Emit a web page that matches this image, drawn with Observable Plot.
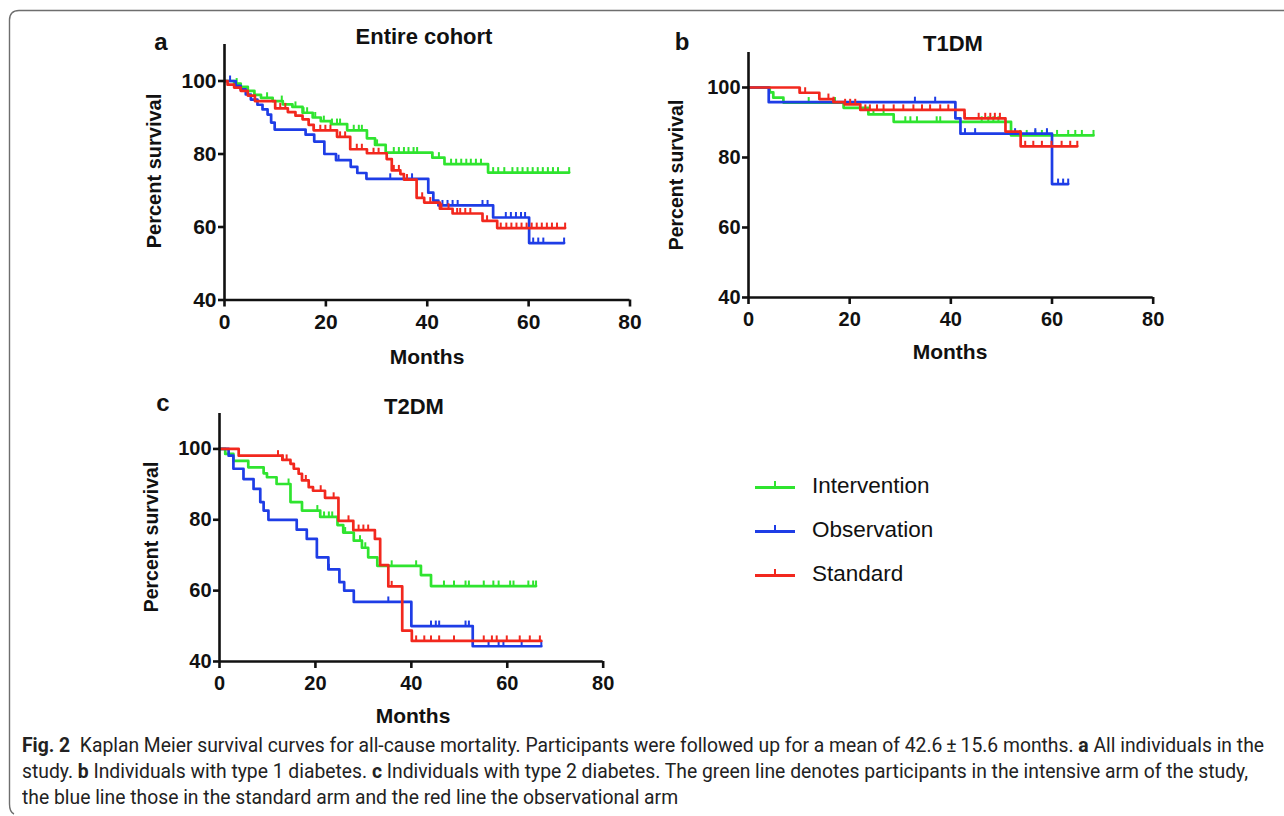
<!DOCTYPE html>
<html><head><meta charset="utf-8">
<script src="https://cdn.jsdelivr.net/npm/d3@7"></script>
<script src="https://cdn.jsdelivr.net/npm/@observablehq/plot@0.6"></script>
<style>
body{margin:0;background:#fff;}
#root{position:relative;width:1284px;height:816px;overflow:hidden;background:#fff;font-family:"Liberation Sans",Arial,Helvetica,sans-serif;color:#111;}
.abs{position:absolute;white-space:nowrap;line-height:1;}
.c{transform:translate(-50%,-50%);}
.b{font-weight:bold;}
.ylab{transform:translate(-50%,-50%) rotate(-90deg);}
.plot{position:absolute;}
.leg{position:absolute;left:755px;height:0;}
.sw{position:absolute;left:0;top:-1.5px;width:40px;height:0;border-top:3px solid;}
.sw::after{content:"";position:absolute;left:19px;top:-8px;width:2px;height:6px;background:currentColor;}
.lt{position:absolute;left:57px;top:-12px;font-size:22.5px;white-space:nowrap;line-height:1;}
.cap{position:absolute;left:22px;white-space:nowrap;font-family:Roboto,"Noto Sans",sans-serif;font-size:19.5px;color:#222;transform-origin:0 50%;line-height:1;}
.cap b{font-weight:bold;}
</style></head>
<body><div id="root"></div>
<script>
// ---------------- data ----------------
const seriesNames = ["Intervention", "Observation", "Standard"];
const seriesColors = ["#2fe42f", "#1e3de6", "#f2281e"];
const xTicks = [0, 20, 40, 60, 80];
const yTicks = [40, 60, 80, 100];
const panelTitles = ["Entire cohort", "T1DM", "T2DM"];
const panelLetters = ["a", "b", "c"];

// Panel a: Entire cohort  [months, percent survival]
const aIntervention = [[0,100],[1.9,99.3],[3.2,98.4],[4.6,97.3],[5.9,96.2],[7.2,95.4],[9.5,94.5],[11.5,93.6],[13.4,92.9],[15.4,91.3],[17.4,90],[19,89],[21,88.2],[24.2,86.5],[28.1,84.3],[29.7,82.5],[31.8,80.4],[41,79],[43.4,77.2],[52,74.9],[68,74.9]];
const aInterventionCensor = [2.4,8.4,11.3,14,15.6,16.3,17.9,19.6,21.2,22.2,22.8,25.5,26.5,27.1,30.1,33.4,34.4,35.4,36.3,37.3,38,41,42.3,44.7,45.7,46.7,47.7,48.6,49.6,50.6,53,54,55.2,56.8,57.8,58.8,59.8,60.8,61.8,62.8,63.8,64.8,65.8,68];
const aObservation = [[0,100],[2.2,98.7],[3.2,97.7],[4.2,96.3],[5.2,94.9],[6.5,93.5],[7.5,92.2],[8.5,90.8],[9.2,88.6],[9.9,86.7],[16,85.3],[17.7,83.4],[19.7,80],[22,78.3],[24.9,76.5],[26.2,74.8],[28,73.2],[40.2,69.4],[41.2,67.2],[42.2,65.9],[53,62.6],[60.1,55.6],[67,55.6]];
const aObservationCensor = [1.1,22.5,32.7,35.4,37,43,44,45,46,50.9,51.9,55.5,56.5,57.5,58.5,59.3,60.9,61.9,62.9,67];
const aStandard = [[0,100],[0.6,99],[1.9,98.2],[3.2,97.3],[4.6,96],[6,94.5],[10,92.5],[12.5,91.5],[14,90.5],[15.4,89.5],[16.6,88],[17.6,86.5],[22.2,84.7],[24.8,81.3],[28.1,80.2],[32,78.6],[33,75.5],[34.7,74.5],[35.4,73],[37.9,68],[39.4,66.7],[42.5,65],[45,63.7],[50.9,61.7],[53.8,59.7],[67.2,59.7]];
const aStandardCensor = [11,12,17.6,18.9,19.9,20.9,22.8,23.8,26.1,27.1,29.4,30.4,33.4,34.4,36,39,40.6,42.8,44.2,45.9,46.5,47.5,48.5,51.8,54.5,55.6,56.6,57.6,58.6,59.6,60.6,61.6,62.6,63.6,64.6,65.6,67.2];

// Panel b: T1DM
const bIntervention = [[0,100],[4.2,98.6],[4.9,97.1],[6.9,95.7],[18.8,94.2],[23.7,92.3],[28.7,90.2],[51.9,86.3],[68.2,86.3]];
const bInterventionCensor = [11.9,17.1,24.7,26.7,31,32,33.3,37.2,37.9,46.1,47.4,48.4,49.4,53.7,55,56.7,58,59,61,63.2,64.6,65.9,68.2];
const bObservation = [[0,100],[4,95.8],[40.9,91.2],[41.9,86.8],[60,72.4],[63.2,72.4]];
const bObservationCensor = [32.9,36.9,42.8,44.8,52.7,56.7,59,61.2,62.2,63.2];
const bStandard = [[0,100],[10.1,98.5],[14,96.7],[16.8,95.8],[19,95.2],[22.1,93.6],[42.7,91.2],[50.8,87.4],[53.8,83.2],[65,83.2]];
const bStandardCensor = [10.2,11.2,15.8,16.8,19.1,20.1,21.1,23.1,24,25.4,26.7,28.7,30.6,32.6,34.3,35.9,37.9,39.5,42.8,45.5,46.8,47.8,48.7,49.7,54.7,56.3,58,59.9,61.9,63.6,65];

// Panel c: T2DM
const cIntervention = [[0,100],[1.2,98.6],[2.9,96.6],[6,94.8],[9.2,93.1],[9.9,92],[11.9,90.1],[14.8,85],[17.2,82.6],[21,80.8],[24.6,78.5],[25.8,76.4],[28,74.1],[29.7,72.1],[31,69.4],[32.9,67],[42,64.4],[44.1,61.3],[66,61.3]];
const cInterventionCensor = [14.4,20.4,21.8,22.8,23.5,26.2,29.3,30.4,35.9,41,46.8,48.9,51.3,52,55.1,57.1,58.2,60.6,61.3,64.4,65.4,66];
const cObservation = [[0,100],[1.9,98.1],[2.9,94.4],[5,91.5],[7.1,88.7],[8.5,85],[9.2,82.6],[10.2,80],[16.1,77.2],[18.2,74.6],[20.3,69.4],[22.7,66],[25,62.4],[26,60],[28,56.8],[40,50],[52.8,44.3],[67.1,44.3]];
const cObservationCensor = [22.8,35.2,44.1,45.1,45.8,51.3,52,56.1,58.2,59.2,63,67.1];
const cStandard = [[0,100],[4,98.1],[13.1,96.9],[14.8,95.8],[15.5,94.4],[16.5,93],[17.2,91.1],[18.6,89.2],[19.5,88.2],[22,86.2],[24.8,79.7],[27.9,77.1],[32.4,74.6],[33.5,67.2],[35.2,61.2],[38.1,48.7],[40.1,45.8],[67.1,45.8]];
const cStandardCensor = [12.2,13.2,14,15.5,18,21.1,23.8,26.9,29,30,31,35.9,41,42.7,44.1,45.8,48.9,55.1,56.8,57.8,59.9,62.6,64.7,66.8];

const captionLines = [
  ["<b>Fig. 2</b>&nbsp; Kaplan Meier survival curves for all-cause mortality. Participants were followed up for a mean of 42.6\u2009\u00b1\u200915.6 months. <b>a</b> All individuals in the"],
  ["study. <b>b</b> Individuals with type 1 diabetes. <b>c</b> Individuals with type 2 diabetes. The green line denotes participants in the intensive arm of the study,"],
  ["the blue line those in the standard arm and the red line the observational arm"]
];

// ---------------- drawing ----------------
const root = document.getElementById("root");

// frame (rounded border)
root.insertAdjacentHTML("beforeend",
  `<svg class="abs" style="left:0;top:0" width="1284" height="816"><path d="M1284,10.5 H19 Q9.5,10.5 9.5,20 V804 Q9.5,812 14,814" fill="none" stroke="#6e6e6e" stroke-width="1.4"/></svg>`);

const censorSymbol = {
  draw(ctx, size) {
    const h = Math.sqrt(size / Math.PI);
    ctx.moveTo(0, 0);
    ctx.lineTo(0, -h);
  }
};

function survAt(steps, t) {
  let v = steps[0][1];
  for (const [tt, s] of steps) { if (tt <= t + 1e-9) v = s; else break; }
  return v;
}

function panel(cfg) {
  const ML = 70, MR = 16, MT = 8, MB = 44;
  const w = ML + (cfg.x80 - cfg.x0) + MR;
  const h = MT + (cfg.y40 - cfg.y110) + MB;
  const marks = [];
  cfg.series.forEach((s, i) => {
    marks.push(Plot.line(s.steps, {x: d => d[0], y: d => d[1], curve: "step-after", stroke: seriesColors[i], strokeWidth: 2.7}));
    marks.push(Plot.dot(s.censor, {x: d => d, y: d => survAt(s.steps, d), symbol: censorSymbol, r: 5.5, stroke: seriesColors[i], strokeWidth: 2, fill: "none"}));
  });
  const fs = cfg.fs;
  const chart = Plot.plot({
    width: w, height: h,
    marginLeft: ML, marginRight: MR, marginTop: MT, marginBottom: MB,
    x: {domain: [0, 80]},
    y: {domain: [40, 110]},
    style: {fontFamily: '"Liberation Sans", Arial, sans-serif', fontWeight: "bold", fontSize: fs + "px", color: "#111", background: "transparent", overflow: "visible"},
    marks: [
      ...marks,
      Plot.ruleX([0], {y1: 40, y2: 110, stroke: "#111", strokeWidth: 2.6}),
      Plot.ruleY([40], {x1: 0, x2: 80, stroke: "#111", strokeWidth: 2.6}),
      Plot.axisX({ticks: xTicks, tickSize: 7, tickPadding: 7, strokeWidth: 2.6, stroke: "#111", fontSize: fs, fontWeight: "bold", fill: "#111", label: null}),
      Plot.axisY({ticks: yTicks, tickSize: 6, tickPadding: 2, strokeWidth: 2.6, stroke: "#111", fontSize: fs, fontWeight: "bold", fill: "#111", label: null})
    ]
  });
  chart.classList.add("plot");
  chart.style.left = (cfg.x0 - ML) + "px";
  chart.style.top = (cfg.y110 - MT) + "px";
  root.appendChild(chart);
  // texts
  root.insertAdjacentHTML("beforeend",
    `<div class="abs c b" style="left:${cfg.title[0]}px;top:${cfg.title[1]}px;font-size:22px">${cfg.titleText}</div>
     <div class="abs c b" style="left:${cfg.letter[0]}px;top:${cfg.letter[1]}px;font-size:24px">${cfg.letterText}</div>
     <div class="abs ylab b" style="left:${cfg.ylab[0]}px;top:${cfg.ylab[1]}px;font-size:${cfg.ylabFs}px">Percent survival</div>
     <div class="abs c b" style="left:${cfg.xlab[0]}px;top:${cfg.xlab[1]}px;font-size:21px">Months</div>`);
}

panel({x0: 223.5, x80: 629, y110: 43.5, y40: 299, fs: 21,
  title: [424, 37], titleText: panelTitles[0], letter: [161, 42], letterText: panelLetters[0],
  ylab: [154, 171], ylabFs: 20, xlab: [427, 356],
  series: [{steps: aIntervention, censor: aInterventionCensor}, {steps: aObservation, censor: aObservationCensor}, {steps: aStandard, censor: aStandardCensor}]});

panel({x0: 748.3, x80: 1153, y110: 52, y40: 297, fs: 20,
  title: [953, 44], titleText: panelTitles[1], letter: [682, 42], letterText: panelLetters[1],
  ylab: [677, 175], ylabFs: 19.5, xlab: [950, 351],
  series: [{steps: bIntervention, censor: bInterventionCensor}, {steps: bObservation, censor: bObservationCensor}, {steps: bStandard, censor: bStandardCensor}]});

panel({x0: 219.3, x80: 603, y110: 413, y40: 661, fs: 20,
  title: [414, 407], titleText: panelTitles[2], letter: [163, 403], letterText: panelLetters[2],
  ylab: [152, 537], ylabFs: 19.5, xlab: [413, 715],
  series: [{steps: cIntervention, censor: cInterventionCensor}, {steps: cObservation, censor: cObservationCensor}, {steps: cStandard, censor: cStandardCensor}]});

// legend
const legY = [487, 531, 575];
seriesNames.forEach((n, i) => {
  root.insertAdjacentHTML("beforeend",
    `<div class="leg" style="top:${legY[i]}px;color:${seriesColors[i]}"><div class="sw"></div><div class="lt" style="color:#111">${n}</div></div>`);
});

// caption
const capY = [746, 772, 798];
const capEls = captionLines.map((l, i) => {
  const d = document.createElement("div");
  d.className = "cap";
  d.style.top = (capY[i] - 10) + "px";
  d.innerHTML = l[0];
  root.appendChild(d);
  return d;
});
const natural = capEls[0].getBoundingClientRect().width;
const sx = 1242 / natural;
capEls.forEach(d => d.style.transform = `scaleX(${sx})`);
</script>
</body></html>
